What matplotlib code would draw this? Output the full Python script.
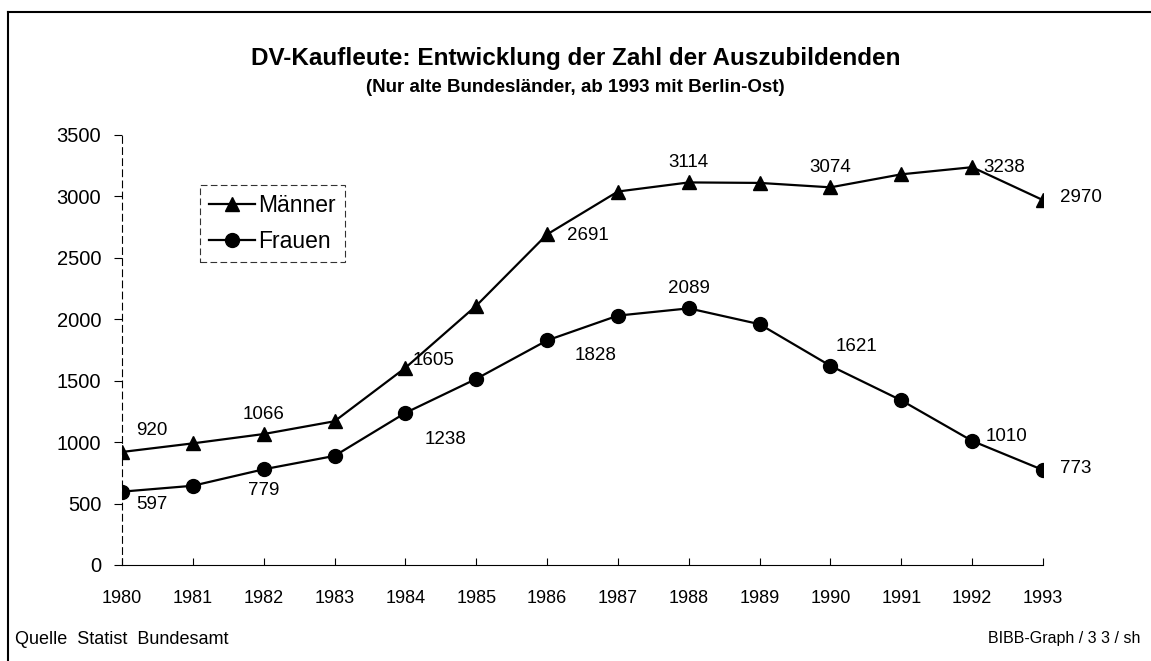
import matplotlib
matplotlib.use('Agg')
import matplotlib.pyplot as plt

plt.rcParams['font.family'] = ['Liberation Sans', 'DejaVu Sans']

years = [1980, 1981, 1982, 1983, 1984, 1985, 1986, 1987, 1988, 1989, 1990, 1991, 1992, 1993]
maenner = [920, 990, 1066, 1170, 1605, 2110, 2691, 3040, 3114, 3110, 3074, 3180, 3238, 2970]
frauen = [597, 645, 779, 888, 1238, 1515, 1828, 2030, 2089, 1960, 1621, 1340, 1010, 773]

# labelled points: (index, text offset in points, ha, va)
m_labels = [(0, (10, 9), 'left', 'bottom'), (2, (0, 8), 'center', 'bottom'),
            (4, (5, 5), 'left', 'center'), (6, (14, -1), 'left', 'center'),
            (8, (0, 8), 'center', 'bottom'), (10, (0, 8), 'center', 'bottom'),
            (12, (8, 0), 'left', 'center'), (13, (12, 2), 'left', 'center')]
f_labels = [(0, (10, -9), 'left', 'center'), (2, (0, -9), 'center', 'top'),
            (4, (14, -19), 'left', 'center'), (6, (20, -11), 'left', 'center'),
            (8, (0, 8), 'center', 'bottom'), (10, (4, 8), 'left', 'bottom'),
            (12, (10, 3), 'left', 'center'), (13, (12, 1), 'left', 'center')]

fig = plt.figure(figsize=(11.51, 6.61), dpi=100)
ax = fig.add_axes([122 / 1151, (661 - 565) / 661, (1043 - 122) / 1151, (565 - 135) / 661])

ax.plot(years, maenner, color='black', lw=1.6, marker='^', markersize=10, label='Männer')
ax.plot(years, frauen, color='black', lw=1.6, marker='o', markersize=10, label='Frauen')

for i, off, ha, va in m_labels:
    ax.annotate(str(maenner[i]), (years[i], maenner[i]), xytext=off, textcoords='offset points',
                ha=ha, va=va, fontsize=13.5)
for i, off, ha, va in f_labels:
    ax.annotate(str(frauen[i]), (years[i], frauen[i]), xytext=off, textcoords='offset points',
                ha=ha, va=va, fontsize=13.5)

ax.set_xlim(1980, 1993)
ax.set_ylim(0, 3500)
ax.set_xticks(years)
ax.set_yticks(range(0, 3501, 500))
ax.tick_params(axis='y', direction='out', length=6, labelsize=14.5, pad=9, width=0.8)
ax.tick_params(axis='x', direction='in', length=5, labelsize=13, pad=18, width=0.8)
for s in ['top', 'right']:
    ax.spines[s].set_visible(False)
ax.spines['left'].set_linestyle((0, (6, 4)))
ax.spines['left'].set_linewidth(0.8)
ax.spines['bottom'].set_linewidth(0.8)

leg = ax.legend(loc='upper left', bbox_to_anchor=(78 / 921, 1 - 50 / 430), fontsize=16.5,
                frameon=True, fancybox=False, edgecolor='black', handlelength=2.0,
                borderpad=0.4, labelspacing=0.55, handletextpad=0.15, borderaxespad=0)
leg.get_frame().set_linestyle((0, (6, 3)))
leg.get_frame().set_linewidth(0.8)

fig.text(0.5, 1 - 58 / 661, 'DV-Kaufleute: Entwicklung der Zahl der Auszubildenden',
         ha='center', va='center', fontsize=17.5, fontweight='bold')
fig.text(0.5, 1 - 88 / 661, '(Nur alte Bundesländer, ab 1993 mit Berlin-Ost)',
         ha='center', va='center', fontsize=13.5, fontweight='bold')
fig.text(15 / 1151, 1 - 640 / 661, 'Quelle  Statist  Bundesamt', ha='left', va='center', fontsize=13)
fig.text(1140 / 1151, 1 - 638 / 661, 'BIBB-Graph / 3 3 / sh', ha='right', va='center', fontsize=11.5)

# frame lines (left and top)
fig.add_artist(plt.Line2D([8 / 1151, 8 / 1151], [0, 1 - 12 / 661], transform=fig.transFigure,
                          color='black', lw=1.5))
fig.add_artist(plt.Line2D([8 / 1151, 1], [1 - 12 / 661, 1 - 12 / 661], transform=fig.transFigure,
                          color='black', lw=1.5))

fig.savefig('out.png', dpi=100)
